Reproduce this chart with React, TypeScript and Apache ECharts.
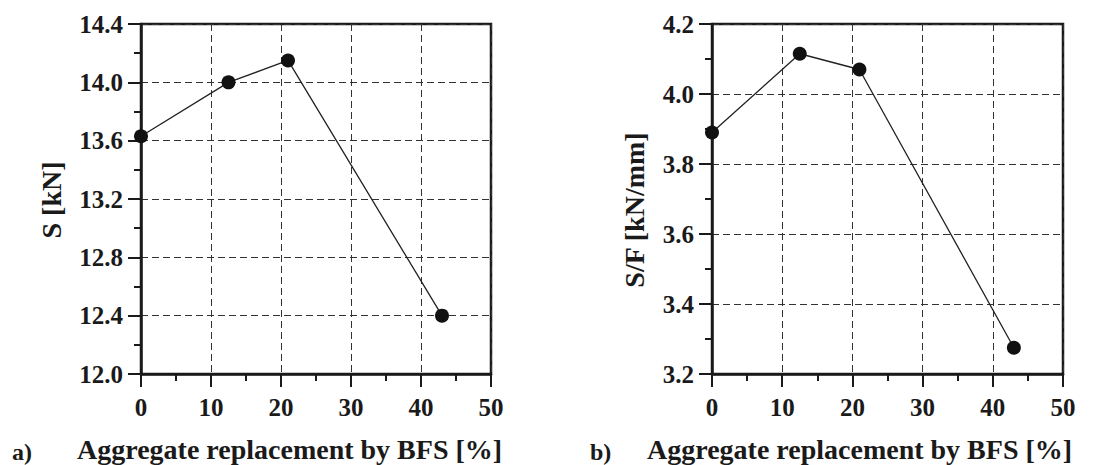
import React, { useEffect, useRef } from "react";
import * as echarts from "echarts";

// Aggregate replacement by BFS [%]
const replacement = [0, 12.5, 21, 43];
// a) S [kN]
const strengthS = [13.63, 14.0, 14.15, 12.4];
// b) S/F [kN/mm]
const stiffnessSF = [3.89, 4.115, 4.07, 3.275];

const xTitle = "Aggregate replacement by BFS [%]";
const yTitleA = "S [kN]";
const yTitleB = "S/F [kN/mm]";
const panelLabels = ["a)", "b)"];

const FONT = "Liberation Serif, Times New Roman, serif";
const INK = "#1a1a1a";

export default function App() {
  const ref = useRef<HTMLDivElement>(null);

  useEffect(() => {
    document.body.style.margin = "0";
    if (!ref.current) return;
    const chart = echarts.init(ref.current, null, { renderer: "svg" });

    const xAxisBase = (gridIndex: number) => ({
      type: "value",
      gridIndex,
      min: 0,
      max: 50,
      interval: 10,
      axisLine: { show: true, lineStyle: { color: INK, width: 2.5 } },
      axisTick: { show: true, length: 13, lineStyle: { color: INK, width: 2 } },
      minorTick: { show: true, splitNumber: 2, length: 7, lineStyle: { color: INK, width: 2 } },
      axisLabel: {
        margin: 21,
        color: INK,
        fontFamily: FONT,
        fontWeight: "bold",
        fontSize: 25,
      },
      splitLine: {
        show: true,
        lineStyle: { color: "#333", width: 1, type: [7, 4] },
      },
    });

    const yAxisBase = (gridIndex: number, min: number, max: number, interval: number) => ({
      type: "value",
      gridIndex,
      min,
      max,
      interval,
      axisLine: { show: true, lineStyle: { color: INK, width: 2.5 } },
      axisTick: { show: true, length: 13, lineStyle: { color: INK, width: 2 } },
      minorTick: { show: true, splitNumber: 2, length: 7, lineStyle: { color: INK, width: 2 } },
      axisLabel: {
        margin: 18,
        color: INK,
        fontFamily: FONT,
        fontWeight: "bold",
        fontSize: 25,
        formatter: (v: number) => v.toFixed(1),
      },
      splitLine: {
        show: true,
        lineStyle: { color: "#333", width: 1, type: [7, 4] },
      },
    });

    const lineSeries = (idx: number, ys: number[]) => ({
      type: "line",
      xAxisIndex: idx,
      yAxisIndex: idx,
      data: replacement.map((x, i) => [x, ys[i]]),
      symbol: "circle",
      symbolSize: 14,
      itemStyle: { color: "#111" },
      lineStyle: { color: "#222", width: 1.3 },
      z: 5,
    });

    const textStyle = (size: number) => ({
      fontFamily: FONT,
      fontWeight: "bold",
      fontSize: size,
      fill: INK,
    });

    chart.setOption({
      animation: false,
      backgroundColor: "#ffffff",
      grid: [
        { left: 141, top: 24, width: 350, height: 350, show: true, borderColor: INK, borderWidth: 2.5, backgroundColor: "transparent" },
        { left: 712, top: 24, width: 351, height: 350, show: true, borderColor: INK, borderWidth: 2.5, backgroundColor: "transparent" },
      ],
      xAxis: [xAxisBase(0), xAxisBase(1)],
      yAxis: [yAxisBase(0, 12.0, 14.4, 0.4), yAxisBase(1, 3.2, 4.2, 0.2)],
      series: [lineSeries(0, strengthS), lineSeries(1, stiffnessSF)],
      graphic: [
        {
          type: "text",
          x: 77,
          y: 449,
          style: { text: xTitle, align: "left", verticalAlign: "middle", ...textStyle(28) },
        },
        {
          type: "text",
          x: 647,
          y: 449,
          style: { text: xTitle, align: "left", verticalAlign: "middle", ...textStyle(28) },
        },
        {
          type: "text",
          x: 51,
          y: 200,
          rotation: Math.PI / 2,
          style: { text: yTitleA, align: "center", verticalAlign: "middle", ...textStyle(28) },
        },
        {
          type: "text",
          x: 634,
          y: 210,
          rotation: Math.PI / 2,
          style: { text: yTitleB, align: "center", verticalAlign: "middle", ...textStyle(28) },
        },
        {
          type: "text",
          x: 12,
          y: 452,
          style: { text: panelLabels[0], align: "left", verticalAlign: "middle", ...textStyle(24) },
        },
        {
          type: "text",
          x: 590,
          y: 452,
          style: { text: panelLabels[1], align: "left", verticalAlign: "middle", ...textStyle(24) },
        },
      ],
    });

    return () => chart.dispose();
  }, []);

  return <div ref={ref} style={{ width: 1093, height: 465 }} />;
}
